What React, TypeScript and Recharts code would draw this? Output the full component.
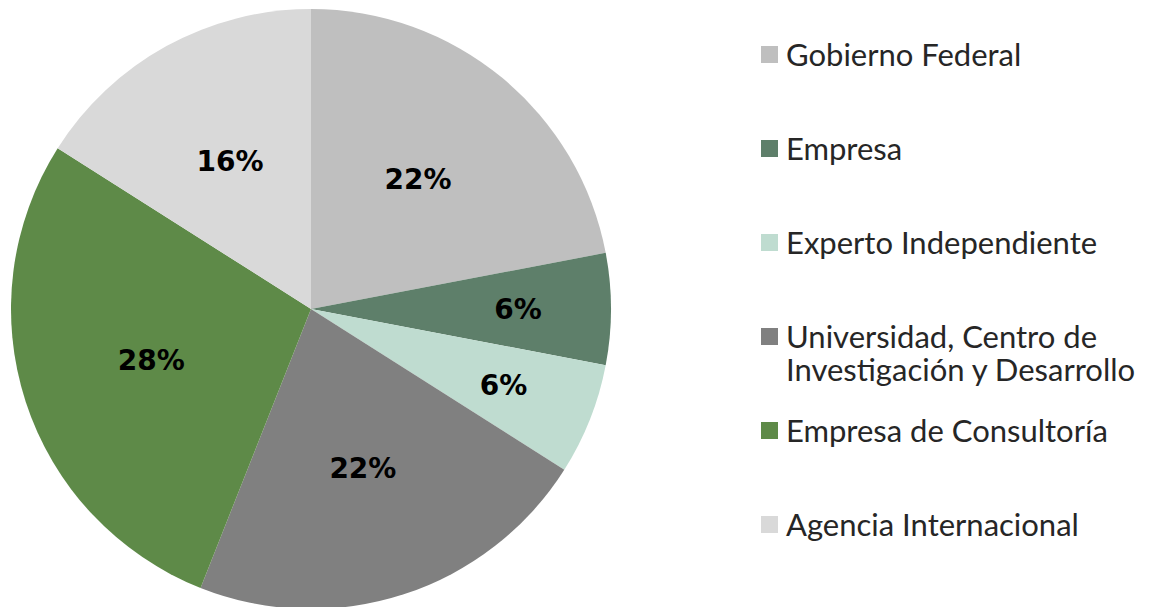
import { PieChart, Pie, Cell, Legend } from 'recharts';

const categories = [
  'Gobierno Federal',
  'Empresa',
  'Experto Independiente',
  'Universidad, Centro de Investigación y Desarrollo',
  'Empresa de Consultoría',
  'Agencia Internacional',
];
const shares = [22, 6, 6, 22, 28, 16];
const colors = ['#bfbfbf', '#5e7f6a', '#bfdcd0', '#808080', '#5e8a48', '#d9d9d9'];

const data = categories.map((name, i) => ({ name, value: shares[i] }));

const RADIAN = Math.PI / 180;

function renderLabel(props: any) {
  const { cx, cy, midAngle, outerRadius, percent, value } = props;
  // small slices get pushed further out, like Excel's best fit
  const r = outerRadius * (percent < 0.1 ? 0.69 : 0.56);
  const x = cx + r * Math.cos(-midAngle * RADIAN);
  const y = cy + r * Math.sin(-midAngle * RADIAN);
  return (
    <text
      x={x}
      y={y}
      textAnchor="middle"
      dominantBaseline="central"
      fill="#000"
      fontFamily="'DejaVu Sans', Verdana, sans-serif"
      fontWeight="bold"
      fontSize={28}
    >
      {`${value}%`}
    </text>
  );
}

// legend keeps the data order (recharts would sort it otherwise)
function renderLegend() {
  return (
    <div style={{ fontFamily: 'Lato, "Open Sans", sans-serif', fontSize: 31, color: '#262626', lineHeight: '33px' }}>
      {categories.map((name, i) => (
        <div key={name} style={{ display: 'flex', alignItems: 'flex-start', height: 94 }}>
          <span
            style={{
              display: 'inline-block',
              width: 17,
              height: 17,
              background: colors[i],
              marginTop: 8,
              marginRight: 8,
              flexShrink: 0,
            }}
          />
          <span style={{ width: 375 }}>{name}</span>
        </div>
      ))}
    </div>
  );
}

export default function App() {
  return (
    <div style={{ position: 'absolute', left: 0, top: 0, width: 1160, height: 607, background: '#fff' }}>
      <PieChart width={1160} height={607} margin={{ top: 0, right: 0, bottom: 0, left: 0 }}>
        <Pie
          data={data}
          dataKey="value"
          nameKey="name"
          cx={311}
          cy={309}
          outerRadius={300}
          startAngle={90}
          endAngle={-270}
          stroke="none"
          label={renderLabel}
          labelLine={false}
          isAnimationActive={false}
        >
          {data.map((d, i) => (
            <Cell key={d.name} fill={colors[i]} />
          ))}
        </Pie>
        <Legend
          layout="vertical"
          content={renderLegend}
          wrapperStyle={{ left: 761, top: 38, width: 399 }}
        />
      </PieChart>
    </div>
  );
}
